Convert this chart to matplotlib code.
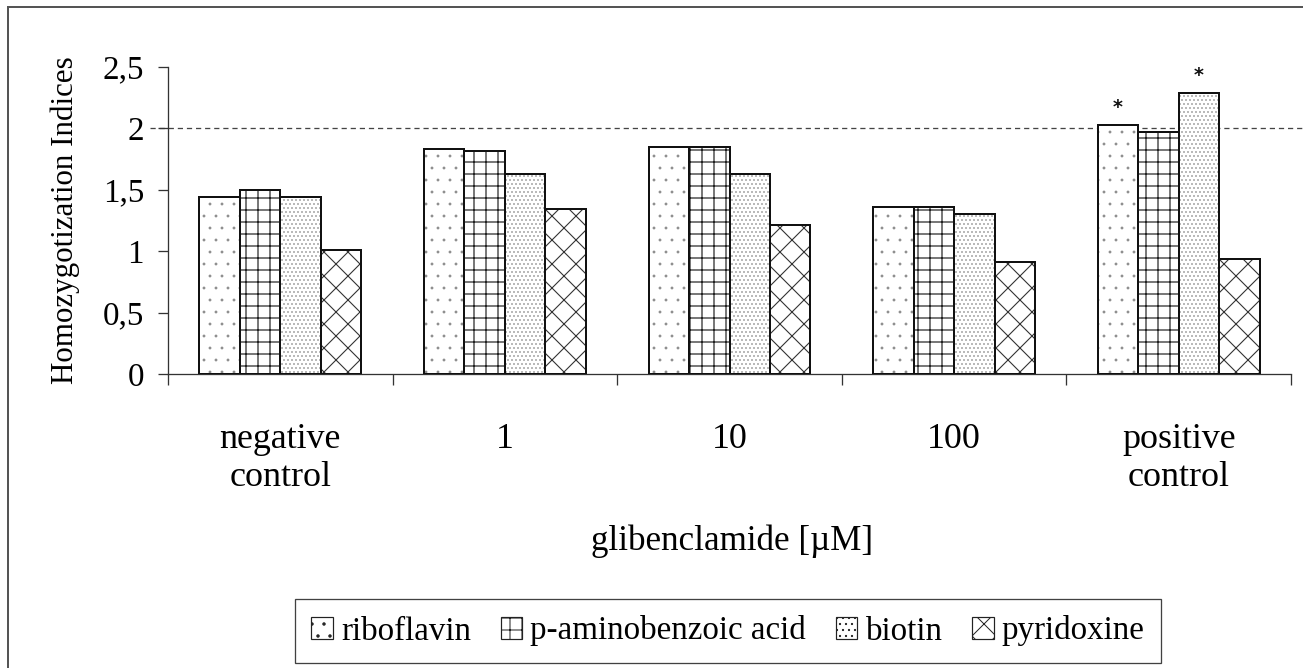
import matplotlib
matplotlib.use("Agg")
import matplotlib.pyplot as plt
import numpy as np
from matplotlib.patches import Rectangle, Patch

categories = ["negative\ncontrol", "1", "10", "100", "positive\ncontrol"]
series_names = ["riboflavin", "p-aminobenzoic acid", "biotin", "pyridoxine"]
riboflavin = [1.44, 1.83, 1.85, 1.36, 2.03]
paba = [1.50, 1.82, 1.85, 1.36, 1.97]
biotin = [1.44, 1.63, 1.63, 1.30, 2.29]
pyridoxine = [1.01, 1.34, 1.21, 0.91, 0.94]
yticks = [0, 0.5, 1, 1.5, 2, 2.5]
ytick_labels = ["0", "0,5", "1", "1,5", "2", "2,5"]
threshold = 2.0
stars = [(4, 0), (4, 2)]  # (category index, series index)

plt.rcParams['font.family'] = ['Liberation Serif', 'DejaVu Serif']

DPI = 72
W, H = 1303, 668
fig = plt.figure(figsize=(W / DPI, H / DPI), dpi=DPI)
ax = fig.add_axes([168 / W, 1 - 374 / H, (1291 - 168) / W, (374 - 67) / H])

data = [riboflavin, paba, biotin, pyridoxine]
hatches = ['.', '+', '...', 'x']
hatch_colors = ['#8a8a8a', '#222222', '#555555', '#333333']
hatch_lws = [0.3, 1.2, 0.5, 1.1]
width = 0.18
x = np.arange(len(categories))
offsets = (np.arange(4) - 1.5) * width

for i, vals in enumerate(data):
    with plt.rc_context({'hatch.linewidth': hatch_lws[i]}):
        ax.bar(x + offsets[i], vals, width, color='white', edgecolor=hatch_colors[i],
               hatch=hatches[i], linewidth=0, zorder=2)
    ax.bar(x + offsets[i], vals, width, color='none', edgecolor='#111111',
           linewidth=2.0, zorder=3)

for ci, si in stars:
    ax.text(x[ci] + offsets[si], data[si][ci] + 0.06, "*", ha='center', va='bottom',
            fontsize=19, fontweight='bold', color='#111111', fontfamily='DejaVu Sans')

ax.plot([-0.016, 1.02], [threshold, threshold], transform=ax.get_yaxis_transform(),
        ls=(0, (4, 3)), color='#444444', lw=1.3, clip_on=False, zorder=1)

ax.set_xlim(-0.5, len(categories) - 0.5)
ax.set_ylim(0, 2.5)
ax.set_yticks(yticks)
ax.set_yticklabels(ytick_labels)
ax.set_xticks(np.arange(len(categories) + 1) - 0.5)
ax.set_xticklabels([])
ax.set_xticks(x, minor=True)
ax.set_xticklabels(categories, minor=True, linespacing=1.2)
ax.tick_params(axis='x', which='major', length=11, width=1.3, direction='out', color='#333333')
ax.tick_params(axis='x', which='minor', length=0, pad=49, labelsize=36)
ax.tick_params(axis='y', length=10, width=1.3, direction='out', pad=14, labelsize=33, color='#333333')
for s in ['top', 'right']:
    ax.spines[s].set_visible(False)
for s in ['left', 'bottom']:
    ax.spines[s].set_linewidth(1.3)
    ax.spines[s].set_color('#333333')

ax.set_ylabel("Homozygotization Indices", fontsize=31, labelpad=22)
fig.text(732 / W, 1 - 541 / H, "glibenclamide [\u00b5M]", ha='center', va='center', fontsize=35)

handles = []
for i in range(4):
    handles.append(Patch(facecolor='white', edgecolor='#222222', hatch=hatches[i] if i != 2 else '..',
                         linewidth=1.2))
leg = fig.legend(handles, series_names, loc='center', bbox_to_anchor=(728 / W, 1 - 631 / H),
                 ncol=4, fontsize=33, frameon=True, fancybox=False, edgecolor='#111111',
                 handlelength=0.65, handleheight=0.65, handletextpad=0.25, columnspacing=0.9,
                 borderpad=0.5, borderaxespad=0)
leg.get_frame().set_linewidth(1.3)

fig.patches.append(Rectangle((8 / W, -0.05), 1.2, 1 - 7 / H + 0.05, transform=fig.transFigure,
                             fill=False, edgecolor='#555555', lw=2))

fig.savefig("out.png", dpi=DPI)
